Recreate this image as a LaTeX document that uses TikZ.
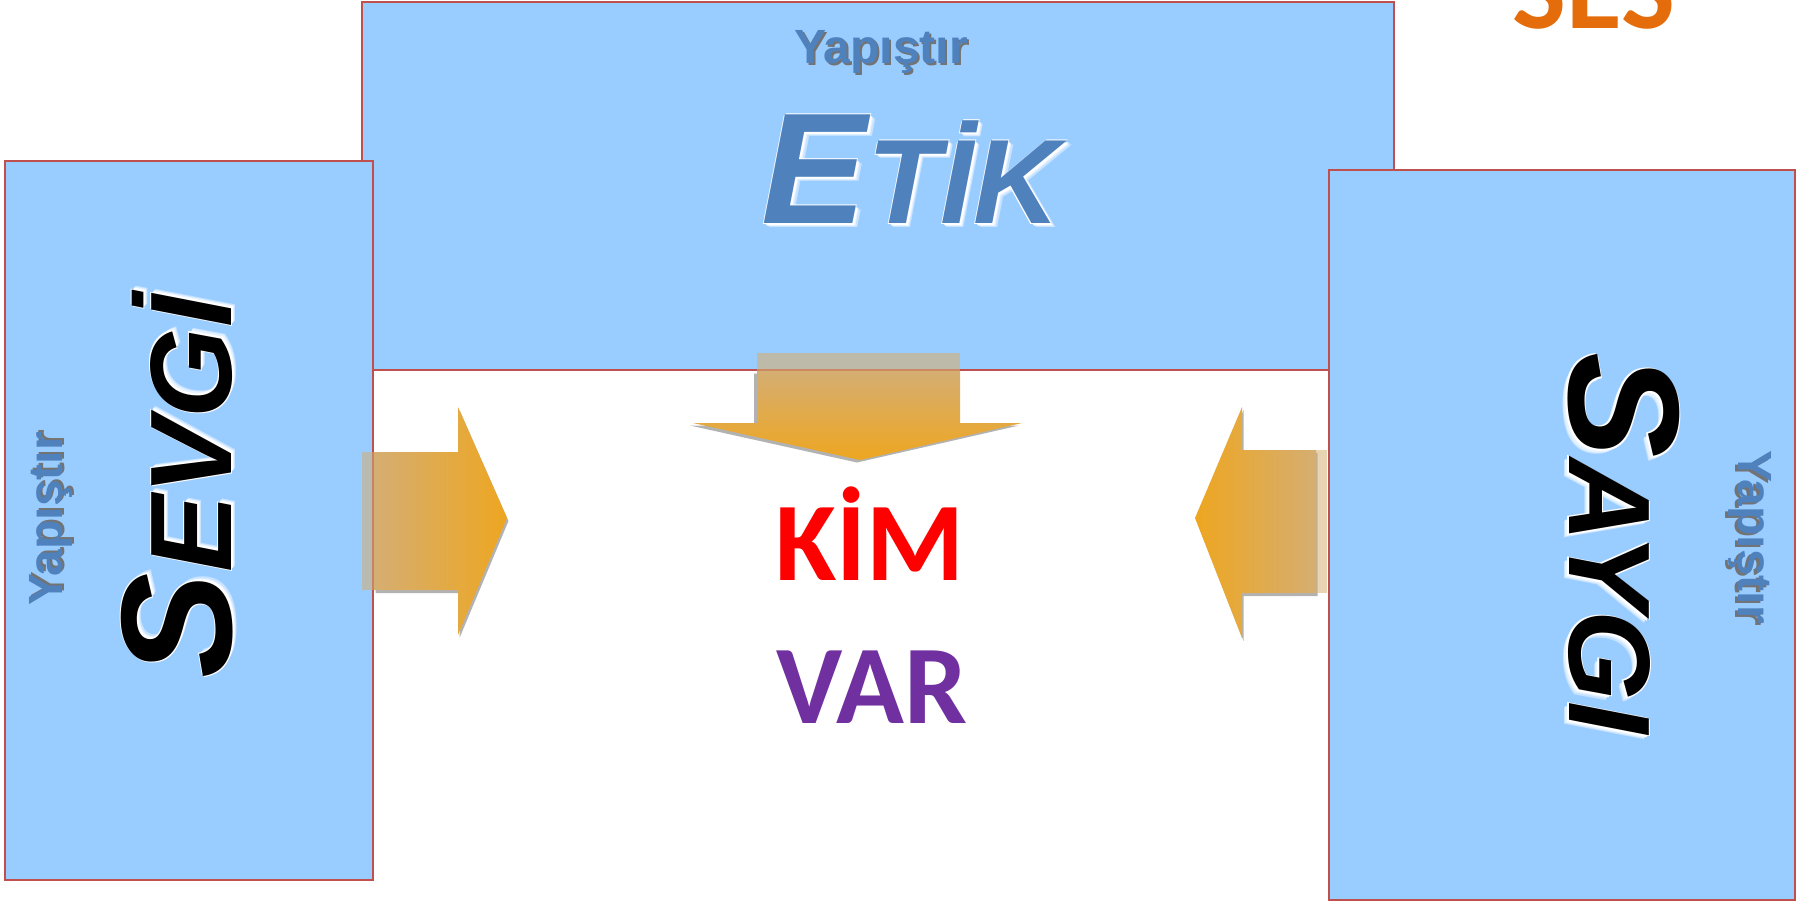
\documentclass[tikz,border=0pt]{standalone}
\usepackage{fontspec}
\setmainfont{Liberation Sans}
\newfontfamily\calfont{Carlito}
\definecolor{boxfill}{HTML}{99CCFF}
\definecolor{boxline}{HTML}{C0504D}
\definecolor{etikblue}{HTML}{4F81BD}
\definecolor{sesorange}{HTML}{E46C0A}
\definecolor{kimred}{HTML}{FF0000}
\definecolor{varpurple}{HTML}{7030A0}
\definecolor{arrowtip}{HTML}{EEA620}
\definecolor{arrowmid}{HTML}{D89E40}
\definecolor{arrowtail}{HTML}{D5AE72}
\newcommand{\glowtext}[1]{%
  \setbox0=\hbox{#1}%
  \rlap{\color{white!45!boxfill}\kern2.2pt\lower2.2pt\copy0}%
  \rlap{\color{white!75!boxfill}\kern1.6pt\lower1.6pt\copy0}%
  \rlap{\color{white}\kern1.0pt\lower1.0pt\copy0}%
  \rlap{\color{white}\kern-0.5pt\lower0.6pt\copy0}%
  \rlap{\color{white}\kern0.6pt\lower-0.5pt\copy0}%
  \box0}
\newcommand{\shadowtext}[1]{%
  \setbox0=\hbox{#1}%
  \rlap{\color{black!55}\kern1.1pt\lower1.1pt\copy0}%
  \box0}
\tikzset{
  panel/.style={fill=boxfill, draw=boxline, line width=1pt},
  txt/.style={inner sep=0pt, outer sep=0pt},
  bigword/.style={txt, text=black, font=\bfseries\itshape},
  pastelabel/.style={txt, text=etikblue, font=\bfseries\fontsize{24}{24}\selectfont},
  arrowshadow/.style={fill=black, opacity=0.3},
  arrowstub/.style={fill=arrowtail, opacity=0.55},
}
\begin{document}
\begin{tikzpicture}[x=0.5pt,y=-0.5pt]
\useasboundingbox (0,0) rectangle (1808,902);
% panels
\path[panel] (362,2) rectangle (1394,370);
\path[panel] (5,161) rectangle (373,880);
\path[panel] (1329,170) rectangle (1795,900);

% top panel texts
\node[pastelabel, anchor=base] (ytop) at (881,63) {\shadowtext{Yapıştır}};
\node[bigword, text=etikblue, anchor=base] (etik) at (911,223)
  {\glowtext{{\fontsize{79}{79}\selectfont E}{\fontsize{60}{60}\selectfont TİK}}};

% left panel texts
\node[pastelabel, anchor=base, rotate=90] (yleft) at (62,519) {\shadowtext{Yapıştır}};
\node[bigword, anchor=base, rotate=90] (sevgi) at (231,487)
  {\glowtext{{\fontsize{79}{79}\selectfont S}{\fontsize{58}{58}\selectfont EVGİ}}};

% right panel texts
\node[pastelabel, anchor=base, rotate=-90] (yright) at (1738,537) {\shadowtext{Yapıştır}};
\node[bigword, anchor=base, rotate=-90] (saygi) at (1569,543)
  {\glowtext{{\fontsize{79}{79}\selectfont S}{\fontsize{58}{58}\selectfont AYGI}}};

% centre words
\node[txt, text=kimred, anchor=base, font={\calfont\bfseries\fontsize{56}{56}\selectfont}] (kim) at (870,580) {KİM};
\node[txt, text=varpurple, anchor=base, font={\calfont\bfseries\fontsize{56}{56}\selectfont}] (var) at (872,723) {VAR};

% corner word
\node[txt, text=sesorange, anchor=base, font={\calfont\bfseries\fontsize{57}{57}\selectfont}] (ses) at (1594,28) {SES};

% left arrow (pointing right)
\fill[arrowshadow, shift={(1.5,3)}] (374,452) -- (458,452) -- (458,407) -- (507,518) -- (458,635) -- (458,590) -- (374,590) -- cycle;
\fill[arrowstub] (362,452) rectangle (374,590);
\shade[left color=arrowtail, middle color=arrowmid, right color=arrowtip]
  (374,452) -- (458,452) -- (458,407) -- (507,518) -- (458,635) -- (458,590) -- (374,590) -- cycle;

% right arrow (pointing left)
\fill[arrowshadow, shift={(1.5,3)}] (1316,450) -- (1242,450) -- (1242,407) -- (1195,518) -- (1242,638) -- (1242,593) -- (1316,593) -- cycle;
\fill[arrowstub] (1316,450) rectangle (1327,593);
\shade[left color=arrowtip, middle color=arrowmid, right color=arrowtail]
  (1316,450) -- (1242,450) -- (1242,407) -- (1195,518) -- (1242,638) -- (1242,593) -- (1316,593) -- cycle;

% top arrow (pointing down)
\fill[arrowshadow, shift={(-3,2.5)}] (757,371) -- (960,371) -- (960,423) -- (1022,423) -- (860,460) -- (693,423) -- (757,423) -- cycle;
\fill[arrowstub, opacity=0.6] (757,353) rectangle (960,371);
\shade[top color=arrowtail, middle color=arrowmid, bottom color=arrowtip]
  (757,371) -- (960,371) -- (960,423) -- (1022,423) -- (860,460) -- (693,423) -- (757,423) -- cycle;
\end{tikzpicture}
\end{document}
